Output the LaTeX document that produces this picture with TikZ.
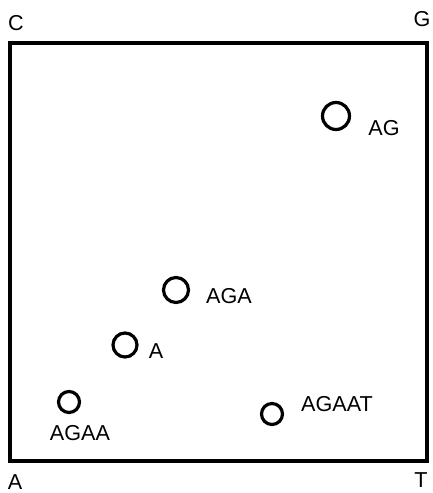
\documentclass[tikz,border=0pt]{standalone}
\usepackage{fontspec}
\setmainfont{Liberation Sans}
\usepackage{tikz}

\begin{document}
\begin{tikzpicture}[x=0.5pt,y=0.5pt,
  spot/.style={circle,draw,line width=1.6pt,inner sep=0pt},
  tag/.style={inner sep=0pt,font=\fontsize{10.8}{12}\selectfont}]
  \useasboundingbox (0,0) rectangle (433,493);
  % frame of the square
  \draw[line width=2pt] (10,32) rectangle (427,450);
  \node[tag] (cc) at (16,470) {C};
  \node[tag] (cg) at (422,474) {G};
  \node[tag] (ca) at (15,11) {A};
  \node[tag] (ct) at (421,13) {T};

  % points of the sequence
  \node[spot,minimum size=13.5pt] (pag) at (336,377) {};
  \node[tag] (lag) at (384,365) {AG};
  \node[spot,minimum size=12.5pt] (paga) at (176,203) {};
  \node[tag] (laga) at (229,197) {AGA};
  \node[spot,minimum size=12pt] (pa) at (125,148) {};
  \node[tag] (la) at (156,142) {A};
  \node[spot,minimum size=10.5pt] (pagaa) at (69,91) {};
  \node[tag] (lagaa) at (80,60) {AGAA};
  \node[spot,minimum size=10.5pt] (pagaat) at (272,79) {};
  \node[tag] (lagaat) at (337,89) {AGAAT};
\end{tikzpicture}
\end{document}
